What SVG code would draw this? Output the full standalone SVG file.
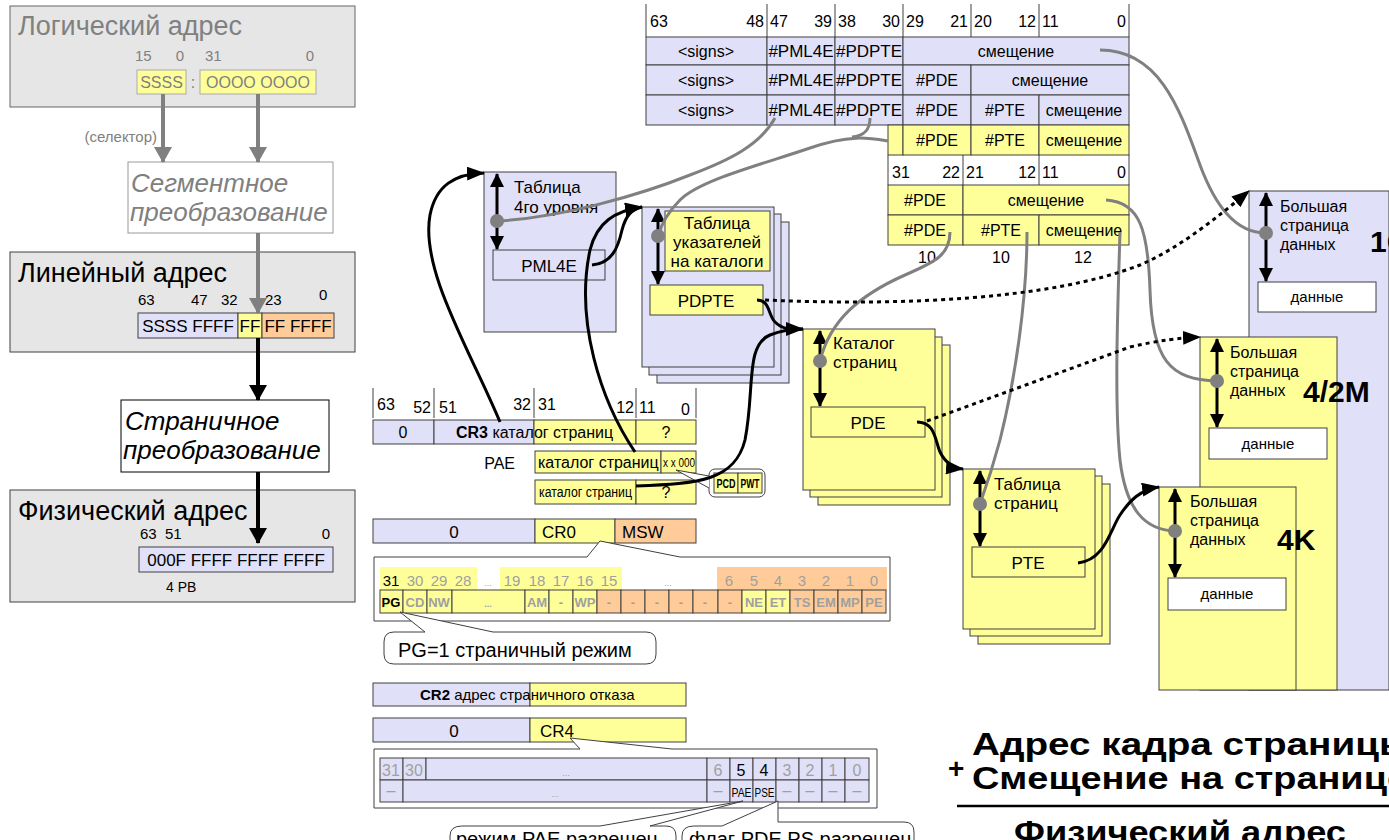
<svg xmlns="http://www.w3.org/2000/svg" width="1389" height="840" viewBox="0 0 1389 840">
<style>
text{font-family:"Liberation Sans",Arial,sans-serif;}
.lav{fill:#e0e0f8;stroke:#404040;stroke-width:1}
.yel{fill:#ffff99;stroke:#404040;stroke-width:1}
.org{fill:#ffcc99;stroke:#404040;stroke-width:1}
.wht{fill:#fff;stroke:#404040;stroke-width:1}
.gbox{fill:#e6e6e6;stroke:#666;stroke-width:1}
.f17{font-size:17px}
.f16{font-size:16px}
.f15{font-size:15px}
.f14{font-size:14px}
.ttl{font-size:27px}
.ital{font-size:26px;font-style:italic}
.c{text-anchor:middle}
.e{text-anchor:end}
.gr{fill:#808080}
.nar{font-family:"Liberation Sans Narrow","Liberation Sans",Arial,sans-serif;font-size:15px}
.bg{fill:#a0a0a0}
.tick{stroke:#404040;stroke-width:1}
.gcurve{fill:none;stroke:#808080;stroke-width:3}
.bcurve{fill:none;stroke:#000;stroke-width:3}
.dots{fill:none;stroke:#000;stroke-width:3;stroke-dasharray:4 4}
.dbl{stroke:#000;stroke-width:3;marker-start:url(#ab2);marker-end:url(#ab2)}
.dot{fill:#808080}
.big{font-size:30px;font-weight:bold}
.fm{font-size:31px;font-weight:bold}
</style>
<defs>
<marker id="ab" markerUnits="userSpaceOnUse" markerWidth="18" markerHeight="14" refX="17" refY="7" orient="auto"><path d="M0,0 L18,7 L0,14 z" fill="#000"/></marker>
<marker id="ab2" markerUnits="userSpaceOnUse" markerWidth="14" markerHeight="14" refX="13" refY="7" orient="auto-start-reverse"><path d="M0,0 L14,7 L0,14 z" fill="#000"/></marker>
<marker id="ag" markerUnits="userSpaceOnUse" markerWidth="16" markerHeight="18" refX="15" refY="9" orient="auto"><path d="M0,0 L16,9 L0,18 z" fill="#808080"/></marker>
<marker id="abk" markerUnits="userSpaceOnUse" markerWidth="16" markerHeight="18" refX="15" refY="9" orient="auto"><path d="M0,0 L16,9 L0,18 z" fill="#000"/></marker>
</defs>

<g id="logical">
<rect class="gbox" x="10" y="6" width="345" height="101"/>
<text x="18" y="35" class="ttl gr">Логический адрес</text>
<text x="135" y="61" class="f15 gr">15</text><text x="184" y="61" class="f15 gr e">0</text>
<text x="205" y="61" class="f15 gr">31</text><text x="314" y="61" class="f15 gr e">0</text>
<rect x="137" y="70" width="49" height="24" fill="#ffff99" stroke="#aaa"/>
<text x="161.5" y="88" class="f16 c gr">SSSS</text>
<text x="193" y="88" class="f16 c gr">:</text>
<rect x="200" y="70" width="116" height="24" fill="#ffff99" stroke="#aaa"/>
<text x="258" y="88" class="f16 c gr">OOOO OOOO</text>
</g>
<g id="segment">
<rect x="128" y="162" width="205" height="71" fill="#fff" stroke="#999"/>
<text x="131" y="192" class="ital gr">Сегментное</text>
<text x="130" y="221" class="ital gr">преобразование</text>
</g>
<g id="linear">
<rect class="gbox" x="10" y="252" width="345" height="100" style="stroke:#404040"/>
<text x="18" y="282" class="ttl">Линейный адрес</text>
<text x="138" y="305" class="f15">63</text><text x="191" y="305" class="f15">47</text>
<text x="221" y="305" class="f15">32</text><text x="265" y="305" class="f15">23</text>
<text x="319" y="300" class="f15">0</text>
<rect class="lav" x="138" y="313" width="100" height="25"/>
<rect class="yel" x="238" y="313" width="24" height="25"/>
<rect class="org" x="262" y="313" width="72" height="25"/>
<text x="188" y="332" class="f17 c">SSSS FFFF</text>
<text x="250" y="332" class="f17 c">FF</text>
<text x="298" y="332" class="f17 c">FF FFFF</text>
</g>
<g id="paging">
<rect x="121" y="400" width="208" height="72" fill="#fff" stroke="#000"/>
<text x="125" y="430" class="ital">Страничное</text>
<text x="123" y="459" class="ital">преобразование</text>
</g>
<g id="physical">
<rect class="gbox" x="10" y="490" width="345" height="112" style="stroke:#404040"/>
<text x="18" y="520" class="ttl">Физический адрес</text>
<text x="140" y="539" class="f15">63</text><text x="165" y="539" class="f15">51</text>
<text x="330" y="539" class="f15 e">0</text>
<rect class="lav" x="139" y="547" width="194" height="25"/>
<text x="236" y="566" class="f17 c">000F FFFF FFFF FFFF</text>
<text x="166" y="592" class="f14">4 PB</text>
</g>
<text x="157" y="142" class="f15 e gr">(селектор)</text>

<g id="addr-table">
<g class="tick">
<line x1="646" y1="4" x2="646" y2="37"/><line x1="767" y1="4" x2="767" y2="37"/>
<line x1="835" y1="4" x2="835" y2="37"/><line x1="903" y1="4" x2="903" y2="37"/>
<line x1="971" y1="4" x2="971" y2="37"/><line x1="1039" y1="4" x2="1039" y2="37"/>
<line x1="1129" y1="4" x2="1129" y2="37"/>
</g>
<text x="650" y="27" class="f16">63</text><text x="764" y="27" class="f16 e">48</text>
<text x="770" y="27" class="f16">47</text><text x="832" y="27" class="f16 e">39</text>
<text x="838" y="27" class="f16">38</text><text x="900" y="27" class="f16 e">30</text>
<text x="906" y="27" class="f16">29</text><text x="968" y="27" class="f16 e">21</text>
<text x="974" y="27" class="f16">20</text><text x="1036" y="27" class="f16 e">12</text>
<text x="1042" y="27" class="f16">11</text><text x="1126" y="27" class="f16 e">0</text>
<rect class="lav" x="646" y="37" width="121" height="28"/><rect class="lav" x="767" y="37" width="68" height="28"/>
<rect class="lav" x="835" y="37" width="68" height="28"/><rect class="lav" x="903" y="37" width="226" height="28"/>
<text x="706" y="57" class="f16 c">&lt;signs&gt;</text><text x="801" y="57" class="f17 c">#PML4E</text>
<text x="869" y="57" class="f17 c">#PDPTE</text><text x="1016" y="57" class="f16 c">смещение</text>
<rect class="lav" x="646" y="65" width="121" height="30"/><rect class="lav" x="767" y="65" width="68" height="30"/>
<rect class="lav" x="835" y="65" width="68" height="30"/><rect class="lav" x="903" y="65" width="68" height="30"/>
<rect class="lav" x="971" y="65" width="158" height="30"/>
<text x="706" y="86" class="f16 c">&lt;signs&gt;</text><text x="801" y="86" class="f17 c">#PML4E</text>
<text x="869" y="86" class="f17 c">#PDPTE</text><text x="937" y="86" class="f16 c">#PDE</text>
<text x="1050" y="86" class="f16 c">смещение</text>
<rect class="lav" x="646" y="95" width="121" height="30"/><rect class="lav" x="767" y="95" width="68" height="30"/>
<rect class="lav" x="835" y="95" width="68" height="30"/><rect class="lav" x="903" y="95" width="68" height="30"/>
<rect class="lav" x="971" y="95" width="68" height="30"/><rect class="lav" x="1039" y="95" width="90" height="30"/>
<text x="706" y="116" class="f16 c">&lt;signs&gt;</text><text x="801" y="116" class="f17 c">#PML4E</text>
<text x="869" y="116" class="f17 c">#PDPTE</text><text x="937" y="116" class="f16 c">#PDE</text>
<text x="1005" y="116" class="f16 c">#PTE</text><text x="1084" y="116" class="f16 c">смещение</text>
<rect class="yel" x="888" y="125" width="15" height="30"/><rect class="yel" x="903" y="125" width="68" height="30"/>
<rect class="yel" x="971" y="125" width="68" height="30"/><rect class="yel" x="1039" y="125" width="90" height="30"/>
<text x="937" y="146" class="f16 c">#PDE</text><text x="1005" y="146" class="f16 c">#PTE</text>
<text x="1084" y="146" class="f16 c">смещение</text>
<g class="tick">
<line x1="888" y1="155" x2="888" y2="185"/><line x1="963" y1="155" x2="963" y2="185"/>
<line x1="1039" y1="155" x2="1039" y2="185"/><line x1="1129" y1="155" x2="1129" y2="185"/>
</g>
<text x="892" y="178" class="f16">31</text><text x="960" y="178" class="f16 e">22</text>
<text x="966" y="178" class="f16">21</text><text x="1036" y="178" class="f16 e">12</text>
<text x="1042" y="178" class="f16">11</text><text x="1126" y="178" class="f16 e">0</text>
<rect class="yel" x="888" y="185" width="75" height="30"/><rect class="yel" x="963" y="185" width="166" height="30"/>
<text x="925" y="206" class="f16 c">#PDE</text><text x="1046" y="206" class="f16 c">смещение</text>
<rect class="yel" x="888" y="215" width="75" height="30"/><rect class="yel" x="963" y="215" width="76" height="30"/>
<rect class="yel" x="1039" y="215" width="90" height="30"/>
<text x="925" y="236" class="f16 c">#PDE</text><text x="1001" y="236" class="f16 c">#PTE</text>
<text x="1084" y="236" class="f16 c">смещение</text>
<text x="927" y="263" class="f16 c">10</text><text x="1001" y="263" class="f16 c">10</text>
<text x="1083" y="263" class="f16 c">12</text>
</g>

<g id="pml4-table">
<rect class="lav" x="484" y="172" width="132" height="160"/>
<text x="514" y="193" class="f17">Таблица</text>
<text x="514" y="213" class="f17">4го уровня</text>
<rect class="lav" x="493" y="250" width="112" height="30"/>
<text x="549" y="272" class="f17 c">PML4E</text>
</g>
<g id="pdpt-table">
<rect class="lav" x="657" y="222" width="132" height="161"/>
<rect class="lav" x="649" y="214" width="132" height="161"/>
<rect class="lav" x="642" y="207" width="132" height="160"/>
<rect class="yel" x="665" y="211" width="105" height="60"/>
<text x="717" y="229" class="f17 c">Таблица</text>
<text x="717" y="248" class="f17 c">указателей</text>
<text x="717" y="267" class="f17 c">на каталоги</text>
<rect class="yel" x="650" y="285" width="113" height="30"/>
<text x="706" y="307" class="f17 c">PDPTE</text>
</g>
<g id="pd-table">
<rect class="yel" x="818" y="345" width="132" height="160"/>
<rect class="yel" x="810" y="337" width="132" height="160"/>
<rect class="yel" x="803" y="329" width="132" height="161"/>
<text x="833" y="349" class="f17">Каталог</text>
<text x="833" y="368" class="f17">страниц</text>
<rect class="yel" x="811" y="407" width="114" height="30"/>
<text x="868" y="429" class="f17 c">PDE</text>
</g>
<g id="pt-table">
<rect class="yel" x="978" y="484" width="132" height="160"/>
<rect class="yel" x="970" y="476" width="132" height="160"/>
<rect class="yel" x="963" y="469" width="132" height="160"/>
<text x="994" y="490" class="f17">Таблица</text>
<text x="994" y="509" class="f17">страниц</text>
<rect class="yel" x="972" y="547" width="113" height="30"/>
<text x="1028" y="569" class="f17 c">PTE</text>
</g>

<g id="page-1g">
<rect class="lav" x="1249" y="191" width="140" height="499"/>
<text x="1280" y="212" class="f16">Большая</text>
<text x="1280" y="231" class="f16">страница</text>
<text x="1280" y="250" class="f16">данных</text>
<text x="1370" y="252" class="big">1G</text>
<rect class="wht" x="1258" y="282" width="118" height="30"/>
<text x="1317" y="302" class="f15 c">данные</text>
</g>
<g id="page-4m">
<rect class="yel" x="1200" y="337" width="137" height="353"/>
<text x="1230" y="358" class="f16">Большая</text>
<text x="1230" y="377" class="f16">страница</text>
<text x="1230" y="396" class="f16">данных</text>
<text x="1303" y="402" class="big">4/2M</text>
<rect class="wht" x="1209" y="428" width="118" height="31"/>
<text x="1268" y="449" class="f15 c">данные</text>
</g>
<g id="page-4k">
<rect class="yel" x="1159" y="487" width="137" height="203"/>
<text x="1190" y="507" class="f16">Большая</text>
<text x="1190" y="526" class="f16">страница</text>
<text x="1190" y="545" class="f16">данных</text>
<text x="1277" y="550" class="big">4K</text>
<rect class="wht" x="1168" y="578" width="118" height="32"/>
<text x="1227" y="599" class="f15 c">данные</text>
</g>

<g id="cr3">
<g class="tick">
<line x1="373" y1="388" x2="373" y2="418"/><line x1="434" y1="388" x2="434" y2="418"/>
<line x1="534" y1="388" x2="534" y2="418"/><line x1="636" y1="388" x2="636" y2="418"/>
<line x1="696" y1="388" x2="696" y2="418"/>
</g>
<text x="377" y="410" class="f16">63</text><text x="431" y="413" class="f16 e">52</text>
<text x="439" y="413" class="f16">51</text><text x="531" y="410" class="f16 e">32</text>
<text x="538" y="410" class="f16">31</text><text x="634" y="413" class="f16 e">12</text>
<text x="639" y="413" class="f16">11</text><text x="690" y="415" class="f16 e">0</text>
<rect class="lav" x="373" y="420" width="61" height="24"/>
<rect class="lav" x="434" y="420" width="100" height="24"/>
<rect class="yel" x="534" y="420" width="102" height="24"/>
<rect class="yel" x="636" y="420" width="60" height="24"/>
<text x="403" y="438" class="f16 c">0</text>
<text x="456" y="438" class="f16"><tspan font-weight="bold">CR3</tspan> каталог страниц</text>
<text x="666" y="438" class="f16 c">?</text>
<text x="515" y="469" class="f16 e">PAE</text>
<rect class="yel" x="535" y="451" width="126" height="22"/>
<rect class="yel" x="661" y="451" width="35" height="22"/>
<text x="538" y="468" class="f16">каталог страниц</text>
<text x="663" y="467" class="nar" style="font-size:12px" textLength="32" lengthAdjust="spacingAndGlyphs">x x 000</text>
<rect class="yel" x="535" y="480" width="101" height="24"/>
<rect class="yel" x="636" y="480" width="60" height="24"/>
<text x="539" y="497" class="nar" style="font-size:14px" textLength="93" lengthAdjust="spacingAndGlyphs">каталог страниц</text>
<text x="666" y="498" class="f16 c">?</text>
<rect x="709" y="469" width="56" height="28" rx="6" fill="#fff" stroke="#404040"/>
<rect class="yel" x="714" y="473" width="24" height="20"/>
<rect class="yel" x="738" y="473" width="24" height="20"/>
<text x="716.5" y="488" class="nar" style="font-size:12px;font-weight:bold" textLength="19" lengthAdjust="spacingAndGlyphs">PCD</text>
<text x="740.5" y="488" class="nar" style="font-size:12px;font-weight:bold" textLength="19" lengthAdjust="spacingAndGlyphs">PWT</text>
<polyline points="709,476 676,470 709,488" fill="#fff" stroke="#404040"/>
</g>

<g id="cr0">
<rect class="lav" x="373" y="519" width="162" height="24"/>
<rect class="yel" x="535" y="519" width="80" height="24"/>
<rect class="org" x="615" y="519" width="81" height="24"/>
<text x="454" y="538" class="f17 c">0</text>
<text x="542" y="538" class="f17">CR0</text>
<text x="622" y="538" class="f17">MSW</text>
<path d="M374,557 H587 L600,541 L680,557 H890 V621 H374 Z" fill="#fff" stroke="#404040"/>
<rect x="380" y="567" width="97" height="23" fill="#ffff99"/>
<rect x="500" y="567" width="122" height="23" fill="#ffff99"/>
<rect x="717" y="567" width="170" height="23" fill="#ffcc99"/>
<text x="391" y="586" class="nar c">31</text>
<g class="nar bg" text-anchor="middle">
<text x="415" y="586">30</text><text x="439" y="586">29</text><text x="463" y="586">28</text>
<text x="488" y="586" style="font-size:9px">...</text>
<text x="512" y="586">19</text><text x="537" y="586">18</text><text x="561" y="586">17</text>
<text x="585" y="586">16</text><text x="609" y="586">15</text>
<text x="668" y="586" style="font-size:9px">...</text>
<text x="729" y="586">6</text><text x="754" y="586">5</text><text x="778" y="586">4</text>
<text x="802" y="586">3</text><text x="826" y="586">2</text><text x="850" y="586">1</text><text x="874" y="586">0</text>
</g>
<rect class="yel" x="380" y="590" width="23" height="23"/>
<rect class="yel" x="403" y="590" width="24" height="23"/>
<rect class="yel" x="427" y="590" width="25" height="23"/>
<rect class="yel" x="452" y="590" width="73" height="23"/>
<rect class="yel" x="525" y="590" width="24" height="23"/>
<rect class="yel" x="549" y="590" width="24" height="23"/>
<rect class="yel" x="573" y="590" width="24" height="23"/>
<rect class="org" x="597" y="590" width="24" height="23"/>
<rect class="org" x="621" y="590" width="24" height="23"/>
<rect class="org" x="645" y="590" width="24" height="23"/>
<rect class="org" x="669" y="590" width="24" height="23"/>
<rect class="org" x="693" y="590" width="25" height="23"/>
<rect class="org" x="718" y="590" width="24" height="23"/>
<rect class="yel" x="742" y="590" width="24" height="23"/>
<rect class="yel" x="766" y="590" width="24" height="23"/>
<rect class="org" x="790" y="590" width="24" height="23"/>
<rect class="org" x="814" y="590" width="24" height="23"/>
<rect class="org" x="838" y="590" width="24" height="23"/>
<rect class="org" x="862" y="590" width="24" height="23"/>
<text x="391" y="607" class="nar c" style="font-size:13px;font-weight:bold">PG</text>
<g class="nar bg" text-anchor="middle" style="font-size:13px;font-weight:bold">
<text x="415" y="607">CD</text><text x="439" y="607">NW</text>
<text x="488" y="607" style="font-size:9px">...</text>
<text x="537" y="607">AM</text><text x="561" y="607">-</text><text x="585" y="607">WP</text>
<text x="609" y="607">-</text><text x="633" y="607">-</text><text x="657" y="607">-</text>
<text x="681" y="607">-</text><text x="705" y="607">-</text><text x="730" y="607">-</text>
<text x="754" y="607">NE</text><text x="778" y="607">ET</text><text x="802" y="607">TS</text>
<text x="826" y="607">EM</text><text x="850" y="607">MP</text><text x="874" y="607">PE</text>
</g>
<path d="M394,632 H425 L400,612 L493,632 H646 Q656,632 656,642 V654 Q656,664 646,664 H394 Q384,664 384,654 V642 Q384,632 394,632 Z" fill="#fff" stroke="#404040"/>
<text x="398" y="657" font-size="20">PG=1 страничный режим</text>
</g>

<g id="cr2">
<rect class="lav" x="373" y="683" width="157" height="23"/>
<rect class="yel" x="530" y="683" width="156" height="23"/>
<text x="420" y="700" class="f15"><tspan font-weight="bold">CR2</tspan> адрес страничного отказа</text>
</g>
<g id="cr4">
<rect class="lav" x="373" y="718" width="157" height="24"/>
<rect class="yel" x="530" y="718" width="156" height="24"/>
<text x="454" y="737" class="f17 c">0</text>
<text x="540" y="737" class="f17">CR4</text>
<path d="M374,749 H580 L570,738 L672,749 H877 V808 H374 Z" fill="#fff" stroke="#404040"/>
<rect class="lav" x="380" y="758" width="23" height="22"/><rect class="lav" x="403" y="758" width="23" height="22"/>
<rect class="lav" x="426" y="758" width="281" height="22"/><rect class="lav" x="707" y="758" width="23" height="22"/>
<rect class="lav" x="730" y="758" width="23" height="22"/><rect class="lav" x="753" y="758" width="23" height="22"/>
<rect class="lav" x="776" y="758" width="23" height="22"/><rect class="lav" x="799" y="758" width="23" height="22"/>
<rect class="lav" x="822" y="758" width="23" height="22"/><rect class="lav" x="845" y="758" width="24" height="22"/>
<rect class="lav" x="380" y="780" width="23" height="22"/><rect class="lav" x="403" y="780" width="304" height="22"/>
<rect class="lav" x="707" y="780" width="23" height="22"/><rect class="lav" x="730" y="780" width="23" height="22"/>
<rect class="lav" x="753" y="780" width="23" height="22"/><rect class="lav" x="776" y="780" width="23" height="22"/>
<rect class="lav" x="799" y="780" width="23" height="22"/><rect class="lav" x="822" y="780" width="23" height="22"/>
<rect class="lav" x="845" y="780" width="24" height="22"/>
<g class="nar bg" text-anchor="middle" style="font-size:16px">
<text x="391" y="776">31</text><text x="414" y="776">30</text>
<text x="566" y="776" style="font-size:9px">...</text>
<text x="718" y="776">6</text>
<text x="787" y="776">3</text><text x="810" y="776">2</text><text x="833" y="776">1</text><text x="857" y="776">0</text>
<text x="391" y="796">–</text><text x="555" y="797" style="font-size:9px">...</text>
<text x="718" y="796">–</text><text x="787" y="796">–</text><text x="810" y="796">–</text><text x="833" y="796">–</text><text x="857" y="796">–</text>
</g>
<text x="741" y="776" class="nar c" style="font-size:16px">5</text>
<text x="764" y="776" class="nar c" style="font-size:16px">4</text>
<text x="731.5" y="797" class="nar" style="font-size:12px" textLength="20" lengthAdjust="spacingAndGlyphs">PAE</text>
<text x="754.5" y="797" class="nar" style="font-size:12px" textLength="20" lengthAdjust="spacingAndGlyphs">PSE</text>
<path d="M462,826 H600 L743,801 L650,826 H666 Q676,826 676,836 V860 H450 V836 Q450,826 462,826 Z" fill="#fff" stroke="#404040"/>
<path d="M694,826 H722 L778,801 V822 H904 Q914,822 914,832 V860 H682 V836 Q682,826 694,826 Z" fill="#fff" stroke="#404040"/>
<text x="456" y="846" font-size="20">режим PAE разрешен</text>
<text x="689" y="846" font-size="20">флаг PDE.PS разрешен</text>
</g>

<g id="formula">
<text x="948" y="778" font-size="28" font-weight="bold">+</text>
<text x="972" y="755" class="fm" textLength="440" lengthAdjust="spacingAndGlyphs">Адрес кадра страницы</text>
<text x="972" y="789" class="fm" textLength="436" lengthAdjust="spacingAndGlyphs">Смещение на странице</text>
<line x1="957" y1="806" x2="1389" y2="806" stroke="#000" stroke-width="2.5"/>
<text x="1014" y="843" class="fm" textLength="332" lengthAdjust="spacingAndGlyphs">Физический адрес</text>
</g>

<g id="connectors">
<line x1="163" y1="94" x2="163" y2="162" stroke="#808080" stroke-width="4" marker-end="url(#ag)"/>
<line x1="258" y1="94" x2="258" y2="162" stroke="#808080" stroke-width="4" marker-end="url(#ag)"/>
<line x1="258" y1="233" x2="258" y2="313" stroke="#808080" stroke-width="4" marker-end="url(#ag)"/>
<line x1="258" y1="338" x2="258" y2="400" stroke="#000" stroke-width="4" marker-end="url(#abk)"/>
<line x1="258" y1="472" x2="258" y2="543" stroke="#000" stroke-width="4" marker-end="url(#abk)"/>

<line class="dbl" x1="497" y1="174" x2="497" y2="249"/>
<line class="dbl" x1="658" y1="209" x2="658" y2="284"/>
<line class="dbl" x1="820" y1="331" x2="820" y2="406"/>
<line class="dbl" x1="980" y1="471" x2="980" y2="546"/>
<line class="dbl" x1="1266" y1="193" x2="1266" y2="281"/>
<line class="dbl" x1="1217" y1="339" x2="1217" y2="427"/>
<line class="dbl" x1="1175" y1="489" x2="1175" y2="577"/>

<path class="gcurve" d="M1100,50 C1160,50 1180,110 1200,165 C1215,205 1235,233 1266,233"/>
<path class="gcurve" d="M1106,200 C1140,202 1148,230 1150,290 C1152,360 1170,380 1217,381"/>
<path class="gcurve" d="M1120,232 C1118,300 1114,400 1120,460 C1126,510 1145,530 1175,531"/>
<path class="gcurve" d="M1027,232 C1027,300 1015,380 1000,440 C992,470 985,490 980,504"/>
<path class="gcurve" d="M950,232 C950,255 935,262 905,275 C860,295 830,320 820,361"/>
<path class="gcurve" d="M870,118 C870,132 862,136 852,137"/>
<path class="gcurve" d="M888,141 C870,138 850,134 810,148 C760,165 700,180 680,200 C668,212 662,222 658,236"/>
<path class="gcurve" d="M775,118 C760,145 730,160 690,175 C640,195 560,218 497,221"/>

<path class="bcurve" marker-end="url(#ab)" d="M500,422 C470,350 420,270 430,215 C436,185 455,174 484,173"/>
<path class="bcurve" marker-end="url(#ab)" d="M635,452 C600,400 575,320 590,250 C597,222 615,211 642,207"/>
<path class="bcurve" d="M592,265 C612,263 618,248 622,230 C626,215 632,209 642,207"/>
<path class="bcurve" marker-end="url(#ab)" d="M636,486 C700,484 735,480 745,440 C755,390 745,345 770,335 C780,331 790,329 803,329"/>
<path class="bcurve" d="M757,300 C770,300 768,315 775,322 C782,329 790,330 803,329"/>
<path class="bcurve" marker-end="url(#ab)" d="M917,422 C935,422 935,440 940,452 C945,462 952,468 963,469"/>
<path class="bcurve" marker-end="url(#ab)" d="M1078,563 C1105,560 1110,530 1120,515 C1130,500 1140,490 1159,487"/>

<path class="dots" marker-end="url(#ab)" d="M765,300 C900,306 1050,300 1140,265 C1180,248 1220,215 1249,191"/>
<path class="dots" marker-end="url(#ab)" d="M927,421 L1130,347 C1160,340 1180,338 1200,337"/>

<circle class="dot" cx="497" cy="221" r="7"/>
<circle class="dot" cx="658" cy="236" r="7"/>
<circle class="dot" cx="820" cy="361" r="7"/>
<circle class="dot" cx="980" cy="504" r="7"/>
<circle class="dot" cx="1266" cy="233" r="7"/>
<circle class="dot" cx="1217" cy="381" r="7"/>
<circle class="dot" cx="1175" cy="531" r="7"/>
</g>
</svg>
